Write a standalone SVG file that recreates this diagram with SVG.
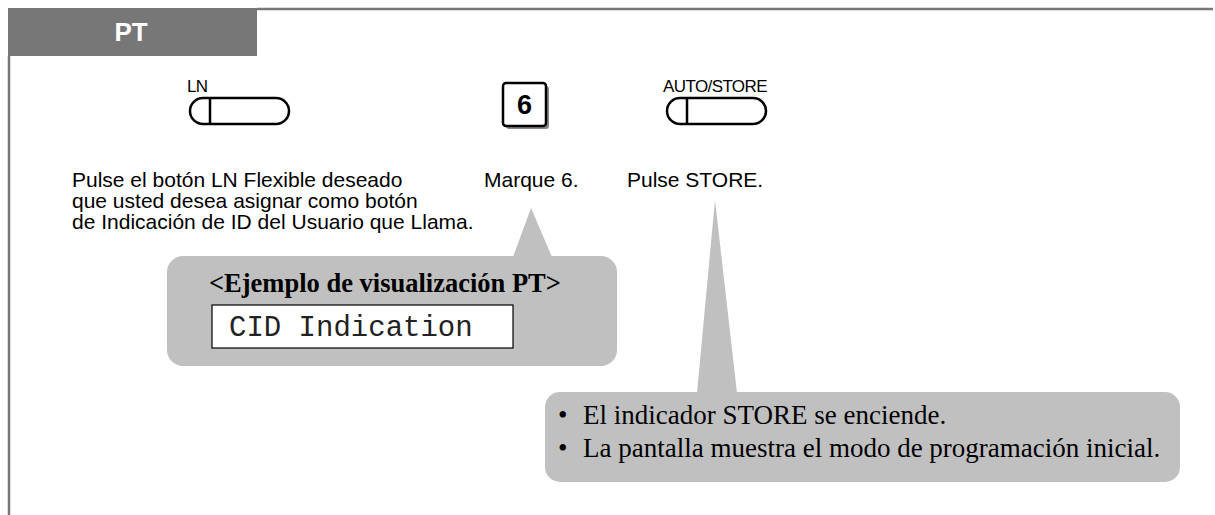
<svg xmlns="http://www.w3.org/2000/svg" width="1215" height="515" viewBox="0 0 1215 515">
<style>
.sans{font-family:"Liberation Sans",Arial,sans-serif;fill:#000}
.serif{font-family:"Liberation Serif","Times New Roman",serif;fill:#000}
.mono{font-family:"Liberation Mono","Courier New",monospace;fill:#222}
.lbl{font-size:17px;letter-spacing:-0.6px}
.btn{fill:#fff;stroke:#000;stroke-width:2.5}
.callout{fill:#c0c0c0}
</style>
<g id="frame">
<line x1="257" y1="9" x2="1213" y2="9" stroke="#777" stroke-width="2.5"/>
<line x1="9" y1="56" x2="9" y2="515" stroke="#777" stroke-width="2.5"/>
<rect x="8" y="8" width="249" height="48" fill="#777"/>
<text x="131" y="41" class="sans" style="fill:#fff;font-weight:bold;font-size:26px" text-anchor="middle">PT</text>
</g>
<g id="ln-button">
<text x="187" y="92" class="sans lbl">LN</text>
<rect x="190" y="98" width="99" height="26" rx="13" class="btn"/>
<line x1="210" y1="98" x2="210" y2="124" stroke="#000" stroke-width="2.5"/>
</g>
<g id="key-6">
<rect x="506" y="86" width="43" height="43" rx="3" fill="#888"/>
<rect x="503" y="83" width="43" height="43" rx="3" fill="#fff" stroke="#000" stroke-width="2.5"/>
<text x="524.5" y="114" class="sans" style="font-weight:bold;font-size:27px" text-anchor="middle">6</text>
</g>
<g id="store-button">
<text x="663" y="92" class="sans lbl">AUTO/STORE</text>
<rect x="667" y="98" width="99" height="26" rx="13" class="btn"/>
<line x1="687" y1="98" x2="687" y2="124" stroke="#000" stroke-width="2.5"/>
</g>
<g id="step-texts" class="sans" style="font-size:21px">
<text x="72" y="187">Pulse el botón LN Flexible deseado</text>
<text x="72" y="208">que usted desea asignar como botón</text>
<text x="72" y="229">de Indicación de ID del Usuario que Llama.</text>
<text x="484" y="187">Marque 6.</text>
<text x="627" y="187">Pulse STORE.</text>
</g>
<g id="connectors">
<polygon points="531,208 552,257 513,257" class="callout"/>
<polygon points="715,200 737,393 697,393" class="callout"/>
</g>
<g id="display-callout">
<rect x="167" y="256" width="450" height="110" rx="16" class="callout"/>
<text x="209" y="292" class="serif" style="font-weight:bold;font-size:26.5px">&lt;Ejemplo de visualización PT&gt;</text>
<rect x="212" y="305" width="301" height="43" fill="#fff" stroke="#000" stroke-width="1.2"/>
<text x="229" y="336" class="mono" style="font-size:29px">CID Indication</text>
</g>
<g id="result-callout">
<rect x="545" y="392" width="635" height="90" rx="15" class="callout"/>
<text class="serif" style="font-size:27px">
<tspan x="558" y="424">•</tspan><tspan x="583" y="424">El indicador STORE se enciende.</tspan>
<tspan x="558" y="457">•</tspan><tspan x="583" y="457">La pantalla muestra el modo de programación inicial.</tspan>
</text>
</g>
</svg>
